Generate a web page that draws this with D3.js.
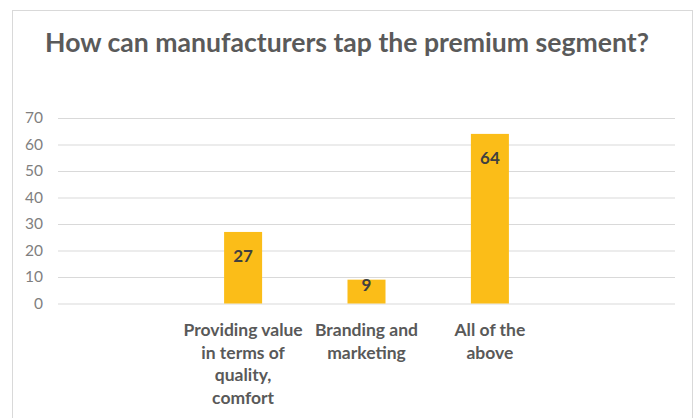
<!DOCTYPE html>
<html>
<head>
<meta charset="utf-8">
<script src="https://cdn.jsdelivr.net/npm/d3@7"></script>
<style>
  html, body { margin: 0; padding: 0; background: #fff; }
  svg { display: block; }
</style>
</head>
<body>
<svg id="chart" width="696" height="418"></svg>
<script>
// Survey answers; the empty slots at each end keep the bars centred in the plot.
const categories = [
  "",
  "Providing value\nin terms of\nquality,\ncomfort",
  "Branding and\nmarketing",
  "All of the\nabove",
  ""
];
const values = [null, 27, 9, 64, null];
const yTicks = [0, 10, 20, 30, 40, 50, 60, 70];
const title = "How can manufacturers tap the premium segment?";

const W = 696, H = 418;
const plot = { left: 58, right: 675, top: 118, bottom: 303.5 };
const font = "Lato, 'Open Sans', sans-serif";

const svg = d3.select("#chart");

// Chart frame
svg.append("rect")
  .attr("x", 12.5).attr("y", 10.5)
  .attr("width", 680).attr("height", 430)
  .attr("fill", "#fff")
  .attr("stroke", "#d9d9d9")
  .attr("stroke-width", 1);

// Title, sized to span its slot
const titleText = svg.append("text")
  .attr("x", 347).attr("y", 52)
  .attr("text-anchor", "middle")
  .attr("font-family", font)
  .attr("font-weight", 700)
  .attr("font-size", 22)
  .attr("fill", "#5a5a5a")
  .text(title);
const tw = titleText.node().getComputedTextLength();
titleText.attr("font-size", 22 * 604 / tw);

const x = d3.scaleBand()
  .domain(d3.range(categories.length))
  .range([plot.left, plot.right])
  .padding(0);

const y = d3.scaleLinear()
  .domain([0, 70])
  .range([plot.bottom, plot.top]);

// Gridlines and value axis
const yAxis = svg.append("g")
  .attr("transform", `translate(${plot.left},0)`)
  .call(d3.axisLeft(y)
    .tickValues(yTicks)
    .tickSize(-(plot.right - plot.left))
    .tickPadding(15));
yAxis.select(".domain").remove();
yAxis.selectAll(".tick line").attr("stroke", "#d9d9d9").attr("stroke-width", 1);
yAxis.selectAll(".tick text")
  .attr("font-family", font)
  .attr("font-size", 15.5)
  .attr("fill", "#7f7f7f");

const barW = x.bandwidth() * 0.308;
const data = categories.map((c, i) => ({ i, c, v: values[i] }));
const filled = data.filter(d => d.v != null);

// Bars
svg.append("g").selectAll("rect")
  .data(filled)
  .join("rect")
  .attr("x", d => x(d.i) + (x.bandwidth() - barW) / 2)
  .attr("y", d => y(d.v))
  .attr("width", barW)
  .attr("height", d => y(0) - y(d.v))
  .attr("fill", "#FBBD18");

// Value labels inside the top of each bar
svg.append("g").selectAll("text")
  .data(filled)
  .join("text")
  .attr("x", d => x(d.i) + x.bandwidth() / 2)
  .attr("y", d => {
    const h = y(0) - y(d.v);
    const off = Math.min(23.5, Math.max(5.5, h - 18.5));
    return y(d.v) + off;
  })
  .attr("dy", "0.36em")
  .attr("text-anchor", "middle")
  .attr("font-family", font)
  .attr("font-weight", 700)
  .attr("font-size", 17)
  .attr("fill", "#404040")
  .text(d => d.v);

// Category labels
const catG = svg.append("g").selectAll("text")
  .data(data.filter(d => d.c !== ""))
  .join("text")
  .attr("text-anchor", "middle")
  .attr("font-family", font)
  .attr("font-weight", 700)
  .attr("font-size", 17.5)
  .attr("fill", "#595959");
catG.each(function(d) {
  const t = d3.select(this);
  d.c.split("\n").forEach((line, k) => {
    t.append("tspan")
      .attr("x", x(d.i) + x.bandwidth() / 2)
      .attr("y", 336 + k * 22.6)
      .text(line);
  });
});
</script>
</body>
</html>
